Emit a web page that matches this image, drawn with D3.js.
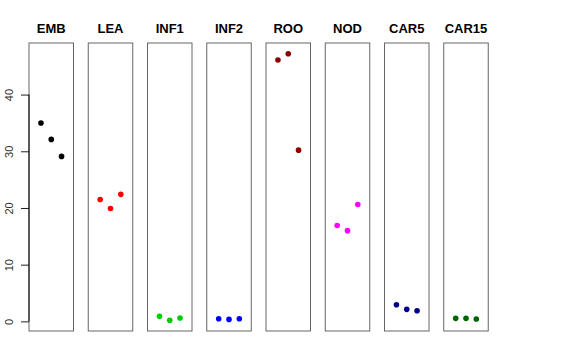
<!DOCTYPE html>
<html><head><meta charset="utf-8">
<script src="https://cdn.jsdelivr.net/npm/d3@7"></script>
<style>body{margin:0;background:#fff}svg{display:block}</style>
</head><body>
<svg id="c" width="576" height="360"></svg>
<script>
const categories = ["EMB","LEA","INF1","INF2","ROO","NOD","CAR5","CAR15"];
const colors = ["#000000","#FF0000","#00CD00","#0000FF","#8B0000","#FF00FF","#00008B","#006400"];
const values = [
  [35.0, 32.1, 29.1],
  [21.5, 19.9, 22.4],
  [0.88, 0.18, 0.58],
  [0.45, 0.35, 0.45],
  [46.1, 47.2, 30.2],
  [16.9, 16.0, 20.6],
  [2.94, 2.12, 1.88],
  [0.53, 0.53, 0.41]
];
const yTicks = [0,10,20,30,40];

(function(){
const svg = d3.select("#c");
const plotTop = 43, plotBottom = 331;
const panelW = 44.5, step = 59.25, left0 = 29;
const y = d3.scaleLinear().domain([-1.7, 49.1]).range([plotBottom, plotTop]);

categories.forEach((cat, i) => {
  const x0 = left0 + i*step;
  const x = d3.scaleLinear().domain([-0.16, 4.16]).range([x0, x0 + panelW]);
  const g = svg.append("g");
  g.selectAll("circle").data(values[i]).join("circle")
    .attr("cx", (d, j) => x(j+1)).attr("cy", d => y(d)).attr("r", 2.8)
    .attr("fill", colors[i]);
  g.append("rect").attr("x", x0).attr("y", plotTop).attr("width", panelW).attr("height", plotBottom-plotTop)
    .attr("fill", "none").attr("stroke", "#666").attr("stroke-width", 1);
  g.append("text").attr("x", x0 + panelW/2).attr("y", 33).attr("text-anchor", "middle")
    .attr("font-family", "Liberation Sans, Arial, sans-serif").attr("font-weight", "bold")
    .attr("font-size", 13).text(cat);
});

const ax = svg.append("g").attr("transform", `translate(${left0},0)`)
  .call(d3.axisLeft(y).tickValues(yTicks).tickSize(8).tickPadding(4));
ax.select(".domain").remove();
ax.append("line").attr("x1", 0).attr("x2", 0)
  .attr("y1", y(yTicks[0])).attr("y2", y(yTicks[yTicks.length-1]))
  .attr("stroke", "#000");
ax.selectAll(".tick line").attr("stroke", "#222");
ax.selectAll(".tick text").attr("font-family", "Liberation Sans, Arial, sans-serif").attr("font-size", 11)
  .attr("fill", "#333").attr("text-anchor", "middle")
  .attr("x", 0).attr("y", 0).attr("dy", "0.35em")
  .attr("transform", "translate(-20,0) rotate(-90)");
})();
</script>
</body></html>
